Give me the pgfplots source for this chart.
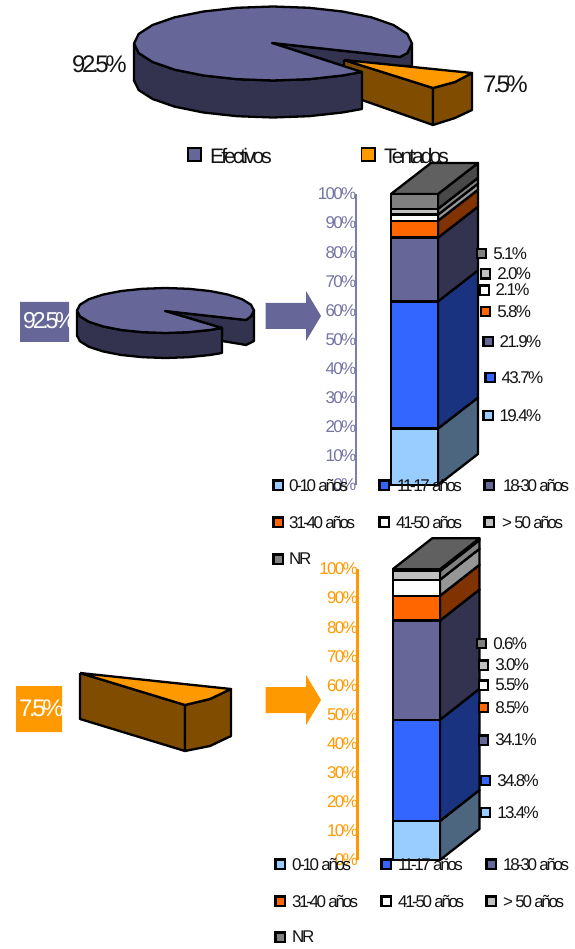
\documentclass[border=0pt]{standalone}
\usepackage{pgfplots}
\pgfplotsset{compat=1.18}
\usepackage{fontspec}
\setmainfont{Liberation Sans}
\newfontfamily\tight[LetterSpace=-10]{Liberation Sans}
\newfontfamily\tighter[LetterSpace=-14]{Liberation Sans}
\definecolor{txt}{HTML}{141414}
\definecolor{violet1}{HTML}{666699}
\definecolor{violet2}{HTML}{33334F}
\definecolor{orange1}{HTML}{FF9900}
\definecolor{brown1}{HTML}{804D00}
\definecolor{c1}{HTML}{99CCFF}\definecolor{s1}{HTML}{4D6680}
\definecolor{c2}{HTML}{3366FF}\definecolor{s2}{HTML}{1A3380}
\definecolor{c3}{HTML}{666699}\definecolor{s3}{HTML}{33334F}
\definecolor{c4}{HTML}{FF6600}\definecolor{s4}{HTML}{803300}
\definecolor{c5}{HTML}{FFFFFF}\definecolor{s5}{HTML}{969696}
\definecolor{c6}{HTML}{C0C0C0}\definecolor{s6}{HTML}{808080}
\definecolor{c7}{HTML}{808080}\definecolor{s7}{HTML}{484848}
\definecolor{topf}{HTML}{606060}
\pgfplotsset{
  canvas/.style={at={(0pt,0pt)},anchor=south west,scale only axis,width=574pt,height=949pt,
    xmin=0,xmax=574,ymin=0,ymax=949,y dir=reverse,hide axis,clip=false},
  shape/.style={fill=#1,draw=black,line width=2.3pt,line join=round,mark=none},
  flat/.style={fill=#1,draw=none,mark=none},
  stackbox/.style={scale only axis,width=124pt,height=291pt,ymin=0,ymax=100,clip=false,anchor=origin}
}
\newcommand\key[4]{\addplot[only marks,mark=square*,mark size=4.6pt,mark options={fill=#3,draw=black,line width=2.2pt}] coordinates {(#1,#2)};\node[anchor=west,inner sep=0pt,text=txt,font=\tight\fontsize{17}{18}\selectfont] at (axis cs:#1+11.5,#2) {#4};}
\newcommand\keyt[5]{\addplot[only marks,mark=square*,mark size=4.6pt,mark options={fill=#3,draw=black,line width=2.2pt}] coordinates {(#1,#2)};\node[anchor=west,inner sep=0pt,text=txt,font=\tighter\fontsize{17}{18}\selectfont] at (axis cs:#5,#2) {#4};}
\begin{document}
\begin{tikzpicture}[x=1pt,y=1pt]
\path[use as bounding box] (0,0) rectangle (574pt,949pt);
% --- pies, arrows, top legend
\begin{axis}[canvas]
% top pie: inner cut
\addplot[shape=violet2] coordinates {(272,43)(400,57)(407.3,53.1)(412,43.5)(412,66)(400,66)(362,72)(272,43)};
% exploded wedge
\addplot[shape=brown1] coordinates {(344,60)(433,88)(433,125)(362,100)(344,80)(344,60)};
\addplot[shape=brown1] coordinates {(433,88)(455,82)(472,73)(472,110)(455,118)(433,125)(433,88)};
\addplot[shape=orange1] coordinates {(344,60)(472,73)(455,82)(433,88)(344,60)};
% top pie: side
\addplot[shape=violet2] coordinates {(134,43.5)(138.7,53.1)(152.6,62)(174.7,69.7)(203.5,75.5)(237,79.2)(273,80.5)(309,79.2)(342.5,75.5)(362,72)(362,109)(342.5,112.5)(309,116.2)(273,117.5)(237,116.2)(203.5,112.5)(174.7,106.7)(152.6,99)(138.7,90.1)(134,80.5)(134,43.5)};
% top pie: face
\addplot[shape=violet1] coordinates {(400,57)(407.3,53.1)(412,43.5)(407.3,33.9)(393.4,25)(371.3,17.3)(342.5,11.5)(309,7.8)(273,6.5)(237,7.8)(203.5,11.5)(174.7,17.3)(152.6,25)(138.7,33.9)(134,43.5)(138.7,53.1)(152.6,62)(174.7,69.7)(203.5,75.5)(237,79.2)(273,80.5)(309,79.2)(342.5,75.5)(362,72)(272,43)(400,57)};
\node[anchor=west,inner sep=0pt,text=txt,font=\tighter\fontsize{24}{25}\selectfont] at (axis cs:72,64) {92.5\%};
\node[anchor=west,inner sep=0pt,text=txt,font=\tighter\fontsize{24}{25}\selectfont] at (axis cs:483,84) {7.5\%};
% top legend
\addplot[only marks,mark=square*,mark size=6.6pt,mark options={fill=violet1,draw=black,line width=1.8pt}] coordinates {(194.5,154.5)};
\addplot[only marks,mark=square*,mark size=6.6pt,mark options={fill=orange1,draw=black,line width=1.8pt}] coordinates {(368,154.5)};
\node[anchor=west,inner sep=0pt,text=txt,font=\tighter\fontsize{21}{22}\selectfont] at (axis cs:210,156) {Efectivos};
\node[anchor=west,inner sep=0pt,text=txt,font=\tighter\fontsize{21}{22}\selectfont] at (axis cs:384,156) {Tentados};
% middle pie
\addplot[shape=violet2] coordinates {(165,311)(246,320)(251,316.3)(254,310.5)(254,341)(246,345)(222,341)(222,328)(165,311)};
\addplot[shape=violet2] coordinates {(77,310.5)(80,316.3)(88.9,321.8)(102.9,326.4)(121.2,330)(142.6,332.2)(165.5,333)(188.4,332.2)(209.8,330)(222,328)(222,353)(209.8,355)(188.4,357.2)(165.5,358)(142.6,357.2)(121.2,355)(102.9,351.4)(88.9,346.8)(80,341.3)(77,335.5)(77,310.5)};
\addplot[shape=violet1] coordinates {(246,320)(251,316.3)(254,310.5)(251,304.7)(242.1,299.2)(228.1,294.6)(209.8,291)(188.4,288.8)(165.5,288)(142.6,288.8)(121.2,291)(102.9,294.6)(88.9,299.2)(80,304.7)(77,310.5)(80,316.3)(88.9,321.8)(102.9,326.4)(121.2,330)(142.6,332.2)(165.5,333)(188.4,332.2)(209.8,330)(222,328)(165,311)(246,320)};
\addplot[flat=violet1] coordinates {(20,302)(69,302)(69,342)(20,342)(20,302)};
\node[anchor=west,inner sep=0pt,text=white,font=\tighter\fontsize{23}{23}\selectfont] at (axis cs:23,321) {92.5\%};
\addplot[flat=violet1] coordinates {(265.5,303)(306,303)(306,291)(321,316)(306,341)(306,329)(265.5,329)(265.5,303)};
% lower wedge
\addplot[shape=brown1] coordinates {(80,673)(185,705)(185,751)(80,719)(80,673)};
\addplot[shape=brown1] coordinates {(185,705)(210,699)(231,689)(231,736)(210,746)(185,751)(185,705)};
\addplot[shape=orange1] coordinates {(80,673)(231,689)(210,699)(185,705)(80,673)};
\addplot[flat=orange1] coordinates {(16,686)(62,686)(62,732)(16,732)(16,686)};
\node[anchor=west,inner sep=0pt,text=white,font=\tighter\fontsize{24}{24}\selectfont] at (axis cs:19,708) {7.5\%};
\addplot[flat=orange1] coordinates {(265.5,687)(306,687)(306,675)(321,700)(306,725)(306,713)(265.5,713)(265.5,687)};
\end{axis}
% --- chart 1: side faces
\begin{axis}[stackbox,at={(356pt,464pt)},xmin=356,xmax=480,hide axis]
\addplot[shape=s1] coordinates {(438,0)(478,10.65)(478,30.05)(438,19.4)(438,0)};
\addplot[shape=s2] coordinates {(438,19.4)(478,30.05)(478,73.75)(438,63.1)(438,19.4)};
\addplot[shape=s3] coordinates {(438,63.1)(478,73.75)(478,95.65)(438,85)(438,63.1)};
\addplot[shape=s4] coordinates {(438,85)(478,95.65)(478,101.45)(438,90.8)(438,85)};
\addplot[shape=s5] coordinates {(438,90.8)(478,101.45)(478,103.55)(438,92.9)(438,90.8)};
\addplot[shape=s6] coordinates {(438,92.9)(478,103.55)(478,105.55)(438,94.9)(438,92.9)};
\addplot[shape=s7] coordinates {(438,94.9)(478,105.55)(478,110.65)(438,100)(438,94.9)};
\addplot[shape=topf] coordinates {(391,100)(438,100)(478,110.65)(431,110.65)(391,100)};
\end{axis}
% --- chart 1: bars and axis
\begin{axis}[stackbox,at={(356pt,464pt)},xmin=356,xmax=480,ybar stacked,bar width=47pt,
  axis x line=none,axis y line=left,major tick length=0pt,
  y axis line style={-,draw=violet1!85,line width=2.4pt},
  ytick={0,10,...,100},yticklabels={0\%,10\%,20\%,30\%,40\%,50\%,60\%,70\%,80\%,90\%,100\%},
  yticklabel style={text=violet1!90,font=\tight\fontsize{17}{18}\selectfont,inner xsep=0pt,xshift=0.5pt}]
\addplot[fill=c1,draw=black,line width=2.3pt] coordinates {(414.5,19.4)};
\addplot[fill=c2,draw=black,line width=2.3pt] coordinates {(414.5,43.7)};
\addplot[fill=c3,draw=black,line width=2.3pt] coordinates {(414.5,21.9)};
\addplot[fill=c4,draw=black,line width=2.3pt] coordinates {(414.5,5.8)};
\addplot[fill=c5,draw=black,line width=2.3pt] coordinates {(414.5,2.1)};
\addplot[fill=c6,draw=black,line width=2.3pt] coordinates {(414.5,2.0)};
\addplot[fill=c7,draw=black,line width=2.3pt] coordinates {(414.5,5.1)};
\end{axis}
% --- chart 2: side faces
\begin{axis}[stackbox,at={(357.5pt,89pt)},xmin=357.5,xmax=481.5,hide axis]
\addplot[shape=s1] coordinates {(440,0)(479.5,10.65)(479.5,24.05)(440,13.4)(440,0)};
\addplot[shape=s2] coordinates {(440,13.4)(479.5,24.05)(479.5,58.85)(440,48.2)(440,13.4)};
\addplot[shape=s3] coordinates {(440,48.2)(479.5,58.85)(479.5,92.95)(440,82.3)(440,48.2)};
\addplot[shape=s4] coordinates {(440,82.3)(479.5,92.95)(479.5,101.45)(440,90.8)(440,82.3)};
\addplot[shape=s5] coordinates {(440,90.8)(479.5,101.45)(479.5,106.95)(440,96.3)(440,90.8)};
\addplot[shape=s6] coordinates {(440,96.3)(479.5,106.95)(479.5,109.95)(440,99.3)(440,96.3)};
\addplot[shape=s7] coordinates {(440,99.3)(479.5,109.95)(479.5,110.55)(440,99.9)(440,99.3)};
\addplot[shape=topf] coordinates {(392.7,99.9)(440,99.9)(479.5,110.55)(432.2,110.55)(392.7,99.9)};
\end{axis}
% --- chart 2: bars and axis
\begin{axis}[stackbox,at={(357.5pt,89pt)},xmin=357.5,xmax=481.5,ybar stacked,bar width=47.3pt,
  axis x line=none,axis y line=left,major tick length=0pt,
  y axis line style={-,draw=orange1,line width=2.4pt},
  ytick={0,10,...,100},yticklabels={0\%,10\%,20\%,30\%,40\%,50\%,60\%,70\%,80\%,90\%,100\%},
  yticklabel style={text=orange1,font=\tight\fontsize{17}{18}\selectfont,inner xsep=0pt,xshift=0.5pt}]
\addplot[fill=c1,draw=black,line width=2.3pt] coordinates {(416.35,13.4)};
\addplot[fill=c2,draw=black,line width=2.3pt] coordinates {(416.35,34.8)};
\addplot[fill=c3,draw=black,line width=2.3pt] coordinates {(416.35,34.1)};
\addplot[fill=c4,draw=black,line width=2.3pt] coordinates {(416.35,8.5)};
\addplot[fill=c5,draw=black,line width=2.3pt] coordinates {(416.35,5.5)};
\addplot[fill=c6,draw=black,line width=2.3pt] coordinates {(416.35,3.0)};
\addplot[fill=c7,draw=black,line width=2.3pt] coordinates {(416.35,0.6)};
\end{axis}
% --- value labels and legends
\begin{axis}[canvas]
\key{481.7}{253.7}{c7}{5.1\%}
\key{485.7}{274}{c6}{2.0\%}
\key{484}{290}{c5}{2.1\%}
\key{485.7}{311.7}{c4}{5.8\%}
\key{488}{341.7}{c3}{21.9\%}
\key{490}{377.3}{c2}{43.7\%}
\key{488}{415.7}{c1}{19.4\%}
\keyt{278}{485}{c1}{0-10 años}{289}
\keyt{384}{485}{c2}{11-17 años}{397}
\keyt{489}{485}{c3}{18-30 años}{503}
\keyt{278}{522}{c4}{31-40 años}{289}
\keyt{384}{522}{c5}{41-50 años}{396}
\keyt{489}{522}{c6}{> 50 años}{502}
\keyt{278}{559}{c7}{NR}{289}
\key{481.7}{643.3}{c7}{0.6\%}
\key{483.7}{665}{c6}{3.0\%}
\key{483.7}{685}{c5}{5.5\%}
\key{483.7}{707.7}{c4}{8.5\%}
\key{483.7}{740}{c3}{34.1\%}
\key{485.7}{780.7}{c2}{34.8\%}
\key{485.7}{812.3}{c1}{13.4\%}
\keyt{280}{864}{c1}{0-10 años}{292}
\keyt{386}{864}{c2}{11-17 años}{398}
\keyt{491}{864}{c3}{18-30 años}{503}
\keyt{280}{901}{c4}{31-40 años}{292}
\keyt{386}{901}{c5}{41-50 años}{398}
\keyt{491}{901}{c6}{> 50 años}{503}
\keyt{280}{937}{c7}{NR}{292}
\end{axis}
\end{tikzpicture}
\end{document}
